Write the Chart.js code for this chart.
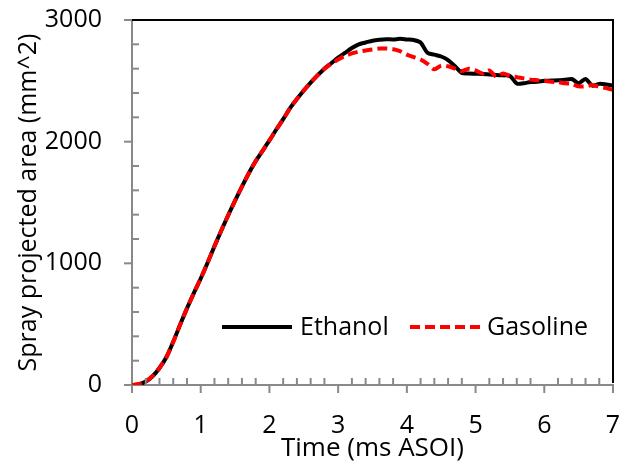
<!DOCTYPE html>
<html lang="en">
<head>
    <meta charset="UTF-8">
    <title>Spray projected area</title>
    <script src="https://cdn.jsdelivr.net/npm/chart.js"></script>
    <style>
        body { margin: 0; padding: 0; background: #fff; }
        #chart-container { position: relative; width: 633px; height: 464px; }
    </style>
</head>
<body>

<div id="chart-container">
    <canvas id="sprayChart" width="633" height="464"></canvas>
</div>

<script>
    // time after start of injection (ms)
    const times = [
        0.0, 0.1, 0.2, 0.3, 0.4, 0.5, 0.6, 0.7, 0.8, 0.9,
        1.0, 1.1, 1.2, 1.3, 1.4, 1.5, 1.6, 1.7, 1.8, 1.9,
        2.0, 2.1, 2.2, 2.3, 2.4, 2.5, 2.6, 2.7, 2.8, 2.9,
        3.0, 3.1, 3.2, 3.3, 3.4, 3.5, 3.6, 3.7, 3.8, 3.9,
        4.0, 4.1, 4.2, 4.3, 4.4, 4.5, 4.6, 4.7, 4.8, 4.9,
        5.0, 5.1, 5.2, 5.3, 5.4, 5.5, 5.6, 5.7, 5.8, 5.9,
        6.0, 6.1, 6.2, 6.3, 6.4, 6.5, 6.6, 6.7, 6.8, 6.9,
        7.0
    ];

    // projected area (mm^2)
    const ethanol = [
        0, 5, 28, 72, 140, 228, 355, 495, 630, 755,
        875, 1005, 1140, 1270, 1395, 1515, 1630, 1740, 1840, 1925,
        2010, 2100, 2185, 2275, 2350, 2420, 2485, 2545, 2600, 2645,
        2690, 2730, 2770, 2800, 2815, 2830, 2838, 2842, 2840, 2845,
        2840, 2835, 2815, 2730, 2715, 2700, 2670, 2620, 2565, 2560,
        2558, 2556, 2552, 2548, 2545, 2540, 2478, 2480, 2490, 2492,
        2500, 2502, 2505, 2508, 2515, 2480, 2515, 2460, 2475, 2470,
        2460
    ];

    const gasoline = [
        0, 8, 30, 74, 140, 228, 355, 495, 630, 755,
        875, 1005, 1140, 1270, 1395, 1515, 1630, 1740, 1840, 1925,
        2010, 2100, 2185, 2275, 2350, 2420, 2485, 2545, 2600, 2640,
        2675, 2705, 2725, 2740, 2750, 2758, 2765, 2766, 2760, 2745,
        2715, 2695, 2675, 2640, 2595, 2625, 2620, 2600, 2580, 2600,
        2585, 2560, 2585, 2535, 2560, 2540, 2530, 2520, 2510, 2505,
        2500, 2492, 2490, 2480, 2475, 2455, 2455, 2465, 2450, 2440,
        2425
    ];

    const axisGray = '#898989';
    const fontFamily = '"Open Sans", "Noto Sans", sans-serif';

    function isWhole(v, step) {
        return Math.abs(v / step - Math.round(v / step)) < 1e-6;
    }

    // tick marks (major outside, minor inside), black top/right frame, legend inside the plot
    const excelLook = {
        id: 'excelLook',
        afterDatasetsDraw(chart) {
            const ctx = chart.ctx;
            const area = chart.chartArea;
            const x = chart.scales.x;
            const y = chart.scales.y;
            ctx.save();
            ctx.strokeStyle = axisGray;
            ctx.lineWidth = 2;
            x.ticks.forEach(t => {
                const px = x.getPixelForValue(t.value);
                const major = isWhole(t.value, 1);
                ctx.beginPath();
                ctx.moveTo(px, area.bottom);
                ctx.lineTo(px, major ? area.bottom + 8 : area.bottom - 7);
                ctx.stroke();
            });
            y.ticks.forEach(t => {
                const py = y.getPixelForValue(t.value);
                const major = isWhole(t.value, 1000);
                ctx.beginPath();
                ctx.moveTo(area.left, py);
                ctx.lineTo(major ? area.left - 8 : area.left + 7, py);
                ctx.stroke();
            });

            // frame
            ctx.strokeStyle = '#000';
            ctx.beginPath();
            ctx.moveTo(area.left, area.top);
            ctx.lineTo(area.right, area.top);
            ctx.lineTo(area.right, area.bottom - 2);
            ctx.stroke();

            // legend
            const entries = [
                { ds: chart.data.datasets[0], x0: 222, x1: 292, tx: 300 },
                { ds: chart.data.datasets[1], x0: 410, x1: 480, tx: 487 }
            ];
            const ly = 327;
            ctx.font = '25px ' + fontFamily;
            ctx.textBaseline = 'middle';
            ctx.fillStyle = '#000';
            entries.forEach(e => {
                ctx.strokeStyle = e.ds.borderColor;
                ctx.lineWidth = e.ds.borderWidth;
                ctx.setLineDash(e.ds.borderDash || []);
                ctx.beginPath();
                ctx.moveTo(e.x0, ly);
                ctx.lineTo(e.x1, ly);
                ctx.stroke();
                ctx.setLineDash([]);
                ctx.fillText(e.ds.label, e.tx, ly + 1);
            });
            ctx.restore();
        }
    };

    const ctx = document.getElementById('sprayChart').getContext('2d');
    const sprayChart = new Chart(ctx, {
        type: 'line',
        data: {
            datasets: [
                {
                    label: 'Ethanol',
                    data: times.map((t, i) => ({ x: t, y: ethanol[i] })),
                    borderColor: '#000000',
                    borderWidth: 4,
                    pointRadius: 0,
                    tension: 0.3,
                    fill: false,
                    order: 1
                },
                {
                    label: 'Gasoline',
                    data: times.map((t, i) => ({ x: t, y: gasoline[i] })),
                    borderColor: '#ff0000',
                    borderWidth: 4,
                    borderDash: [10, 5],
                    pointRadius: 0,
                    tension: 0.3,
                    fill: false,
                    order: 0
                }
            ]
        },
        options: {
            responsive: false,
            animation: false,
            layout: { padding: { top: 20, right: 20, left: 0, bottom: 0 } },
            plugins: {
                legend: { display: false },
                tooltip: { enabled: false }
            },
            scales: {
                x: {
                    type: 'linear',
                    min: 0,
                    max: 7,
                    afterFit: s => { s.height = 79; },
                    border: { color: axisGray, width: 2 },
                    grid: {
                        drawOnChartArea: false,
                        drawTicks: true,
                        tickLength: 26,
                        tickColor: 'rgba(0,0,0,0)'
                    },
                    ticks: {
                        stepSize: 0.2,
                        autoSkip: false,
                        maxRotation: 0,
                        padding: 0,
                        color: '#000',
                        font: { family: fontFamily, size: 25 },
                        callback: v => isWhole(v, 1) ? Math.round(v) : ''
                    },
                    title: {
                        display: true,
                        text: 'Time (ms ASOI)',
                        color: '#000',
                        font: { family: fontFamily, size: 26 },
                        padding: { top: 0, bottom: 0 }
                    }
                },
                y: {
                    min: 0,
                    max: 3000,
                    afterFit: s => { s.width = 132; },
                    border: { color: axisGray, width: 2 },
                    grid: {
                        drawOnChartArea: false,
                        drawTicks: true,
                        tickLength: 30,
                        tickColor: 'rgba(0,0,0,0)'
                    },
                    ticks: {
                        stepSize: 200,
                        autoSkip: false,
                        padding: 0,
                        color: '#000',
                        font: { family: fontFamily, size: 25 },
                        callback: v => isWhole(v, 1000) ? v : ''
                    },
                    title: {
                        display: true,
                        text: 'Spray projected area (mm^2)',
                        color: '#000',
                        font: { family: fontFamily, size: 25 },
                        padding: { top: 14, bottom: 0 }
                    }
                }
            }
        },
        plugins: [excelLook]
    });
</script>

</body>
</html>
